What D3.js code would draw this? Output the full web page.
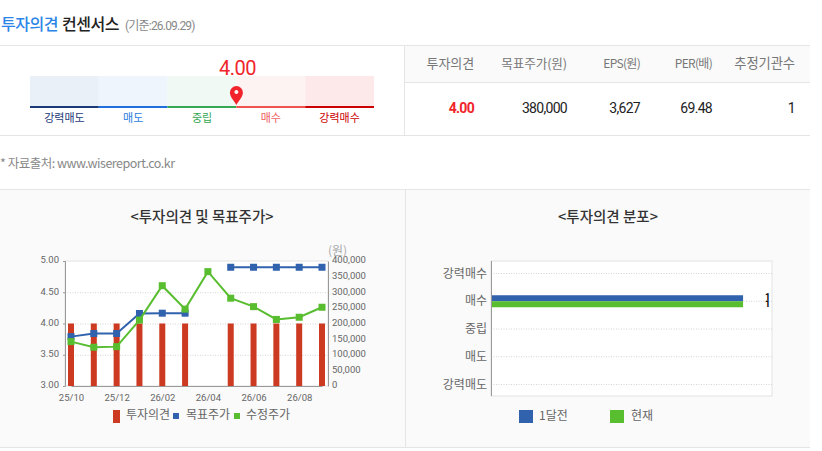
<!DOCTYPE html>
<html><head><meta charset="utf-8">
<script src="https://cdn.jsdelivr.net/npm/d3@7/dist/d3.min.js"></script>
<style>
html,body{margin:0;padding:0;background:#fff;overflow:hidden}
svg{display:block}
text{font-family:"Noto Sans CJK KR","Noto Sans",sans-serif}
.num{font-family:Roboto,"Noto Sans CJK KR",sans-serif}
</style></head><body><div id="c"></div>
<script>
const months=["25/10","25/11","25/12","26/01","26/02","26/03","26/04","26/05","26/06","26/07","26/08","26/09"];
const monthTicks=["25/10","25/12","26/02","26/04","26/06","26/08"];
const opinion=[4,4,4,4,4,4,null,4,4,4,4,4];
const target=[158000,168000,168000,232000,233000,233000,null,380000,380000,380000,380000,380000];
const adjusted=[142000,124000,126000,211000,321000,246000,366000,281000,254000,213000,220000,252000];
const opinionTicks=[3,3.5,4,4.5,5];
const priceTicks=[0,50000,100000,150000,200000,250000,300000,350000,400000];
const gaugeLabels=["강력매도","매도","중립","매수","강력매수"];
const gaugeBg=["#e9f0f8","#eef5fd","#f1f9f4","#fef3f3","#fde9ea"];
const gaugeLine=["#1c3a78","#1e6fdc","#34a853","#f0544f","#cc0000"];
const gaugeText=["#1c3a78","#2a7de1","#34a853","#f0605c","#cc0000"];
const consensus=4.00;
const tableHead=["투자의견","목표주가(원)","EPS(원)","PER(배)","추정기관수"];
const tableVals=["4.00","380,000","3,627","69.48","1"];
const distCats=["강력매수","매수","중립","매도","강력매도"];
const distPrev=[0,1,0,0,0];
const distNow=[0,1,0,0,0];
const BLUE="#3162ad",GREEN="#58bd2f",RED="#cc3a22",TXT="#666",LINE="#e5e5e5";

const svg=d3.select("#c").append("svg").attr("width",822).attr("height",451);
const hline=(x1,x2,y,c=LINE)=>svg.append("rect").attr("x",x1).attr("y",y).attr("width",x2-x1).attr("height",1).attr("fill",c);
const vline=(x,y1,y2,c=LINE)=>svg.append("rect").attr("x",x).attr("y",y1).attr("width",1).attr("height",y2-y1).attr("fill",c);
const txt=(g,x,y,s,o={})=>g.append("text").attr("x",x).attr("y",y).text(s)
  .attr("font-size",o.size||11).attr("fill",o.fill||TXT).attr("text-anchor",o.anchor||"start")
  .attr("font-weight",o.weight||400).attr("letter-spacing",o.ls||0).attr("class",o.cls||null);

// header
txt(svg,1,30,"투자의견",{size:16,fill:"#2a85e8",weight:500,ls:"-.5px"});
txt(svg,62,30,"컨센서스",{size:16,fill:"#222",weight:500,ls:"-.5px"});
txt(svg,125,30,"(기준:26.09.29)",{size:12,fill:"#888",ls:"-.8px",cls:"num"});

// frame
svg.append("rect").attr("x",405).attr("y",46).attr("width",405).attr("height",36).attr("fill","#fafafa");
svg.append("rect").attr("x",0).attr("y",190).attr("width",810).attr("height",257).attr("fill","#fafafa");
hline(0,810,45);hline(0,810,135);hline(405,810,82);hline(0,810,189);hline(0,810,447);
vline(404,45,135);vline(405,190,447);

// gauge
const gx=d3.scaleLinear().domain([1,6]).range([30,374]);
const gauge=svg.append("g");
gaugeLabels.forEach((l,i)=>{
  const a=gx(i+1),b=gx(i+2);
  gauge.append("rect").attr("x",a).attr("y",76).attr("width",b-a).attr("height",30).attr("fill",gaugeBg[i]);
  gauge.append("rect").attr("x",a).attr("y",106).attr("width",b-a).attr("height",2).attr("fill",gaugeLine[i]);
  txt(gauge,(a+b)/2,122,l,{anchor:"middle",fill:gaugeText[i],size:11});
});
txt(gauge,gx(consensus)+1,75,consensus.toFixed(2),{anchor:"middle",size:20,fill:"#f0242a",cls:"num",ls:"-.5px"});
gauge.append("path").attr("transform",`translate(${gx(consensus)},105)`)
  .attr("d","M0,0C-2,-4 -6.5,-8 -6.5,-12.5A6.5,6.5 0 1 1 6.5,-12.5C6.5,-8 2,-4 0,0Z M0,-15a2,2 0 1 0 0.01,0Z")
  .attr("fill","#f0242a").attr("fill-rule","evenodd");
txt(svg,0,168,"* 자료출처: www.wisereport.co.kr",{size:12.5,fill:"#888",ls:"-.5px"});

// table
const colR=[474,567,640,712,795];
const headSize=[13,12.6,12,12,13.3], headLs=["-.1px","-.1px","-.7px","-.7px","-.1px"];
tableHead.forEach((h,i)=>{ txt(svg,colR[i],68,h,{anchor:"end",size:headSize[i],fill:"#777",ls:headLs[i]}); });
tableVals.forEach((v,i)=>{ txt(svg,colR[i],113,v,{anchor:"end",size:14,fill:i==0?"#f0242a":"#222",weight:i==0?700:400,cls:"num",ls:"-.7px"}); });

// left chart
txt(svg,202,222,"<투자의견 및 목표주가>",{anchor:"middle",size:14.5,fill:"#333",weight:500});
const L=65,R=328,T=261,B=386;
const c1=svg.append("g");
c1.append("rect").attr("x",L).attr("y",T).attr("width",R-L).attr("height",B-T).attr("fill","#fff").attr("stroke","#e2e2e2");
const x=d3.scalePoint().domain(months).range([71,322]);
const yL=d3.scaleLinear().domain([3,5]).range([B,T]);
const yR=d3.scaleLinear().domain([0,400000]).range([B,T]);
opinionTicks.slice(1,4).forEach(t=>c1.append("line").attr("x1",L).attr("x2",R).attr("y1",yL(t)+.5).attr("y2",yL(t)+.5).attr("stroke","#d4d4d4").attr("stroke-dasharray","1,1.5"));
c1.selectAll(".b").data(months.map((m,i)=>({m,v:opinion[i]})).filter(d=>d.v!=null)).join("rect")
  .attr("x",d=>x(d.m)-3).attr("width",6).attr("y",d=>yL(d.v)).attr("height",d=>B-yL(d.v)).attr("fill",RED);
function series(vals,col,markR){
  const line=d3.line().defined(d=>d.v!=null).x(d=>x(d.m)).y(d=>yR(d.v));
  const data=months.map((m,i)=>({m,v:vals[i]}));
  c1.append("path").attr("d",line(data)).attr("fill","none").attr("stroke",col).attr("stroke-width",2);
  c1.selectAll(null).data(data.filter(d=>d.v!=null)).join("rect")
    .attr("x",d=>x(d.m)-markR).attr("y",d=>yR(d.v)-markR).attr("width",markR*2).attr("height",markR*2).attr("fill",col);
}
series(target,BLUE,3.5);
series(adjusted,GREEN,3.5);
const axisL=c1.append("g").attr("transform",`translate(${L},0)`).call(d3.axisLeft(yL).tickValues(opinionTicks).tickFormat(d3.format(".2f")).tickSize(2).tickPadding(4));
const axisR=c1.append("g").attr("transform",`translate(${R},0)`).call(d3.axisRight(yR).tickValues(priceTicks).tickFormat(d3.format(",")).tickSize(0).tickPadding(4));
const axisB=c1.append("g").attr("transform",`translate(0,${B})`).call(d3.axisBottom(x).tickValues(monthTicks).tickSize(0).tickPadding(8));
[axisL,axisR,axisB].forEach(a=>{a.selectAll("text").attr("font-size",9.5).attr("fill",TXT).attr("class","num").attr("font-family",null);a.selectAll("line").attr("stroke","#999");a.attr("font-family",null)});
axisL.selectAll("text").attr("dy","0.2em");axisR.selectAll("text").attr("dy","0.2em");
axisL.select(".domain").attr("stroke","#999");axisR.select(".domain").attr("stroke","#999");axisB.select(".domain").attr("stroke","#999");
txt(svg,328,255,"(원)",{size:12,fill:"#aaa"});
svg.append("rect").attr("x",113).attr("y",410).attr("width",7).attr("height",13).attr("fill",RED);
txt(svg,126,419,"투자의견",{size:12});
svg.append("rect").attr("x",173).attr("y",413).attr("width",6).attr("height",6).attr("fill",BLUE);
txt(svg,186,419,"목표주가",{size:12});
svg.append("rect").attr("x",234).attr("y",413).attr("width",6).attr("height",6).attr("fill",GREEN);
txt(svg,246,419,"수정주가",{size:12});

// right chart
txt(svg,608,222,"<투자의견 분포>",{anchor:"middle",size:14.5,fill:"#333",weight:500});
const L2=491,R2=772,T2=261,B2=396;
const c2=svg.append("g");
c2.append("rect").attr("x",L2).attr("y",T2).attr("width",R2-L2).attr("height",B2-T2).attr("fill","#fff").attr("stroke","#e2e2e2");
const y2=d3.scalePoint().domain(distCats).range([273.5,384.5]);
const x2=d3.scaleLinear().domain([0,1.115]).range([L2+.5,R2]);
distCats.forEach((c,i)=>{
  c2.append("line").attr("x1",L2).attr("x2",R2).attr("y1",y2(c)).attr("y2",y2(c)).attr("stroke","#d4d4d4").attr("stroke-dasharray","1,1.5");
  txt(c2,L2-4,y2(c)+4,c,{anchor:"end",size:12});
  if(distPrev[i]){c2.append("rect").attr("x",x2(0)).attr("y",y2(c)-6).attr("width",x2(distPrev[i])-x2(0)).attr("height",6).attr("fill",BLUE);
    txt(c2,767.5,y2(c)-1,distPrev[i],{anchor:"middle",size:9,fill:"#000",weight:700,cls:"num"});}
  if(distNow[i]){c2.append("rect").attr("x",x2(0)).attr("y",y2(c)).attr("width",x2(distNow[i])-x2(0)).attr("height",6).attr("fill",GREEN);
    txt(c2,767.5,y2(c)+6,distNow[i],{anchor:"middle",size:9,fill:"#000",weight:700,cls:"num"});}
});
c2.append("line").attr("x1",L2+.5).attr("x2",L2+.5).attr("y1",T2).attr("y2",B2).attr("stroke","#999");
svg.append("rect").attr("x",519).attr("y",410).attr("width",14).attr("height",13).attr("fill",BLUE);
txt(svg,539,420,"1달전",{size:12});
svg.append("rect").attr("x",610).attr("y",410).attr("width",14).attr("height",13).attr("fill",GREEN);
txt(svg,631,420,"현재",{size:12});
</script></body></html>
